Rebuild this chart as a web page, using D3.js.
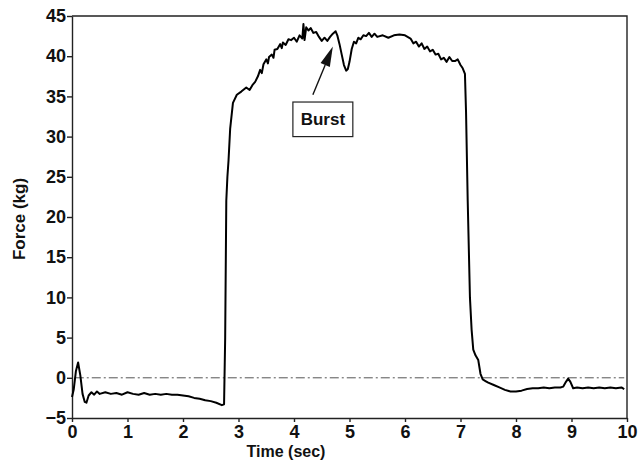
<!DOCTYPE html>
<html>
<head>
<meta charset="utf-8">
<title>Force vs Time</title>
<script src="https://d3js.org/d3.v7.min.js"></script>
<style>
  body { margin: 0; background: #fff; }
  svg { display: block; }
  .axis text { font: bold 18px "Liberation Sans", Arial, sans-serif; fill: #111; }
  .axis line, .axis path { stroke: #222; stroke-width: 1.4px; }
  .frame { stroke: #222; stroke-width: 1.4px; fill: none; }
  .zero { stroke: #555; stroke-width: 1px; stroke-dasharray: 9,3,2,3; }
  .trace { fill: none; stroke: #000; stroke-width: 2px; stroke-linejoin: round; }
  .title { font: bold 16px "Liberation Sans", Arial, sans-serif; fill: #111; }
</style>
</head>
<body>
<div id="chart"></div>
<script>
// time (sec) and force (kg)
var time = [0, 0.03, 0.07, 0.11, 0.15, 0.19, 0.23, 0.26, 0.3, 0.35, 0.4, 0.45, 0.5, 0.6, 0.7, 0.8, 0.9,
  1.0, 1.1, 1.2, 1.3, 1.4, 1.5, 1.6, 1.7, 1.8, 1.9, 2.0, 2.1, 2.2, 2.3, 2.4, 2.5, 2.6, 2.7, 2.74,
  2.76, 2.78, 2.8, 2.82, 2.85, 2.9, 2.97, 3.05, 3.14, 3.2, 3.25, 3.3, 3.35, 3.39, 3.42, 3.45, 3.5, 3.53, 3.55,
  3.6, 3.63, 3.65, 3.7, 3.75, 3.78, 3.8, 3.85, 3.9, 3.95, 4.0, 4.05, 4.1, 4.15, 4.17, 4.19, 4.22, 4.26, 4.3,
  4.35, 4.4, 4.45, 4.5, 4.55, 4.6, 4.65, 4.7, 4.75, 4.78, 4.82, 4.86, 4.9, 4.94, 4.97, 5.0, 5.04,
  5.08, 5.12, 5.16, 5.2, 5.25, 5.3, 5.35, 5.4, 5.45, 5.5, 5.6, 5.7, 5.8, 5.9, 6.0, 6.1, 6.15, 6.2, 6.25, 6.3, 6.35, 6.4, 6.45, 6.5,
  6.55, 6.6, 6.65, 6.7, 6.75, 6.8, 6.85, 6.9, 6.95, 7.0, 7.04, 7.08, 7.1, 7.13, 7.17, 7.2, 7.23, 7.27, 7.32, 7.36, 7.4,
  7.45, 7.5, 7.6, 7.7, 7.8, 7.9, 8.0, 8.1, 8.2, 8.3, 8.4, 8.5, 8.6, 8.7, 8.8, 8.85, 8.9, 8.94,
  8.98, 9.03, 9.1, 9.2, 9.3, 9.4, 9.5, 9.6, 9.7, 9.8, 9.9, 9.95];
var force = [-2.4, -1.5, 0.8, 1.9, 0.3, -2.0, -3.0, -3.1, -2.2, -1.8, -2.1, -1.7, -2.0, -1.8, -2.0, -1.9, -2.1,
  -1.8, -2.0, -2.1, -1.9, -2.1, -2.0, -2.1, -2.0, -2.1, -2.1, -2.2, -2.3, -2.5, -2.6, -2.8, -2.9, -3.1, -3.4, -3.3,
  5, 22, 25, 27, 31, 34.2, 35.2, 35.6, 36.1, 35.8, 36.4, 36.8, 37.5, 38.3, 37.9, 39.0, 39.6, 39.1, 39.9,
  40.2, 39.8, 40.8, 40.9, 41.5, 41.0, 41.7, 41.4, 42.1, 42.0, 42.3, 41.8, 42.6, 42.2, 44.0, 42.0, 43.6, 43.2, 43.5,
  42.9, 43.0, 42.4, 41.9, 42.3, 41.9, 42.4, 42.8, 43.1, 42.6, 41.5, 40.2, 38.9, 38.2, 38.4, 39.3, 40.9,
  41.8, 41.6, 42.3, 42.1, 42.6, 42.5, 42.9, 42.4, 42.8, 42.4, 42.6, 42.3, 42.6, 42.7, 42.6, 42.2, 41.6, 41.8, 41.2, 41.6, 40.9, 41.2, 40.6, 40.8,
  40.2, 40.3, 39.6, 39.8, 39.3, 39.9, 39.4, 39.4, 39.6, 38.9, 38.5, 37.8, 33, 22, 10, 6, 3.5, 2.8, 2.2, 0.5, -0.2,
  -0.4, -0.6, -0.9, -1.2, -1.5, -1.7, -1.7, -1.6, -1.4, -1.3, -1.3, -1.2, -1.3, -1.2, -1.2, -1.1, -0.5, -0.1,
  -0.5, -1.3, -1.2, -1.3, -1.2, -1.3, -1.2, -1.3, -1.2, -1.3, -1.2, -1.4];

var xTicks = [0, 1, 2, 3, 4, 5, 6, 7, 8, 9, 10];
var yTicks = [-5, 0, 5, 10, 15, 20, 25, 30, 35, 40, 45];

// annotation in data units
var burstLabel = "Burst";
var burstBox = [3.98, 5.06, 34.3, 30.0];   // t0, t1, f0, f1
var burstArrow = [[4.34, 35.2], [4.70, 41.2]]; // tail, tip

var W = 638, H = 462;
var svg = d3.select("#chart").append("svg").attr("width", W).attr("height", H);

var x = d3.scaleLinear().domain([0, 10]).range([72, 627]);
var y = d3.scaleLinear().domain([-5, 45]).range([418, 16]);

// top and right frame
svg.append("path").attr("class", "frame")
   .attr("d", "M" + x(0) + "," + y(45) + "H" + x(10) + "V" + y(-5));

// zero reference line
svg.append("line").attr("class", "zero")
   .attr("x1", x(0.05)).attr("x2", x(9.95))
   .attr("y1", y(0)).attr("y2", y(0));

svg.append("g").attr("class", "axis")
   .attr("transform", "translate(0," + y(-5) + ")")
   .call(d3.axisBottom(x).tickValues(xTicks).tickSize(4).tickSizeOuter(0).tickPadding(3));

svg.append("g").attr("class", "axis")
   .attr("transform", "translate(" + x(0) + ",0)")
   .call(d3.axisLeft(y).tickValues(yTicks).tickSize(5).tickSizeOuter(0).tickPadding(1));

var data = time.map(function(t, i) { return [t, force[i]]; });
var line = d3.line().x(function(d) { return x(d[0]); }).y(function(d) { return y(d[1]); });
svg.append("path").datum(data).attr("class", "trace").attr("d", line);

// axis titles
svg.append("text").attr("class", "title")
   .attr("x", 286).attr("y", 457)
   .attr("text-anchor", "middle")
   .text("Time (sec)");

svg.append("text").attr("class", "title")
   .attr("transform", "translate(25,219) rotate(-90)")
   .attr("text-anchor", "middle")
   .style("font-size", "17px")
   .text("Force (kg)");

// burst annotation
svg.append("rect")
   .attr("x", x(burstBox[0])).attr("y", y(burstBox[2]))
   .attr("width", x(burstBox[1]) - x(burstBox[0]))
   .attr("height", y(burstBox[3]) - y(burstBox[2]))
   .attr("fill", "#fff").attr("stroke", "#222").attr("stroke-width", 1.2);

svg.append("text")
   .attr("x", (x(burstBox[0]) + x(burstBox[1])) / 2)
   .attr("y", y(burstBox[3]) - 12)
   .attr("text-anchor", "middle")
   .style("font", "bold 17px 'Liberation Sans', Arial, sans-serif")
   .attr("fill", "#111")
   .text(burstLabel);

var ax0 = x(burstArrow[0][0]), ay0 = y(burstArrow[0][1]);
var ax1 = x(burstArrow[1][0]), ay1 = y(burstArrow[1][1]);
var ang = Math.atan2(ay1 - ay0, ax1 - ax0);
var headLen = 20, headW = 5;
var bx = ax1 - headLen * Math.cos(ang), by = ay1 - headLen * Math.sin(ang);
svg.append("line")
   .attr("x1", ax0).attr("y1", ay0).attr("x2", bx).attr("y2", by)
   .attr("stroke", "#111").attr("stroke-width", 1.4);
svg.append("path")
   .attr("d", "M" + ax1 + "," + ay1 +
        "L" + (bx + headW * Math.sin(ang)) + "," + (by - headW * Math.cos(ang)) +
        "L" + (bx - headW * Math.sin(ang)) + "," + (by + headW * Math.cos(ang)) + "Z")
   .attr("fill", "#111");
</script>
</body>
</html>
